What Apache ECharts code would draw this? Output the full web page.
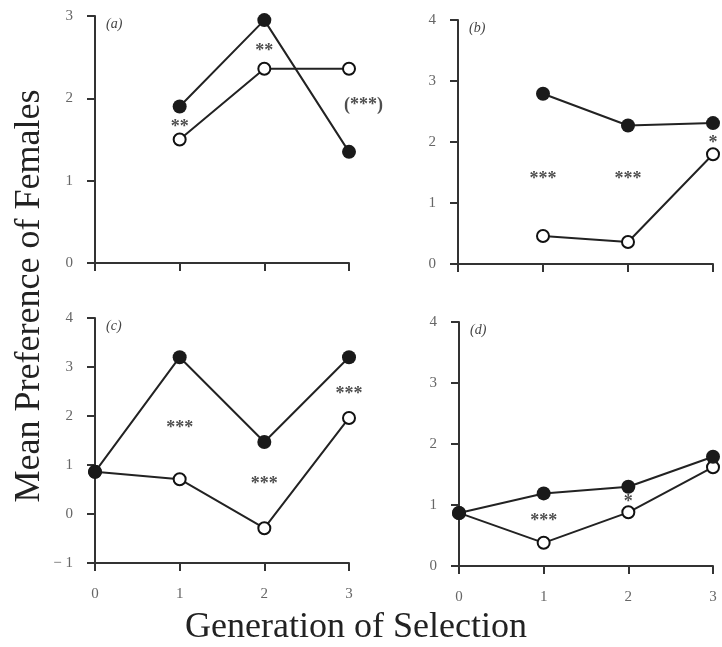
<!DOCTYPE html>
<html>
<head>
<meta charset="utf-8">
<script src="https://cdn.jsdelivr.net/npm/echarts@6/dist/echarts.min.js"></script>
<style>
  html, body { margin: 0; padding: 0; background: #fff; }
  #chart { width: 722px; height: 647px; }
</style>
</head>
<body>
<div id="chart"></div>
<script>
// generations on the x axis
const gens = [0, 1, 2, 3]
const xTicks = ['0', '1', '2', '3']

// mean preference, filled = one line, open = the other (null = no data)
const aFilled = [null, 1.9, 2.95, 1.35]
const aOpen = [null, 1.5, 2.36, 2.36]
const bFilled = [null, 2.79, 2.27, 2.31]
const bOpen = [null, 0.46, 0.36, 1.8]
const cFilled = [0.86, 3.2, 1.47, 3.2]
const cOpen = [0.86, 0.71, -0.29, 1.96]
const dFilled = [0.87, 1.19, 1.3, 1.79]
const dOpen = [0.87, 0.38, 0.88, 1.62]

// significance marks: [generation, value, text]
const aStars = [[1, 1.7, '**'], [2, 2.62, '**'], [3.17, 1.96, '(***)']]
const bStars = [[1, 1.45, '***'], [2, 1.45, '***'], [3, 2.05, '*']]
const cStars = [[1, 1.82, '***'], [2, 0.69, '***'], [3, 2.53, '***']]
const dStars = [[1, 0.8, '***'], [2, 1.11, '*']]

const panelLabels = ['(a)', '(b)', '(c)', '(d)']
const yRanges = [[0, 3], [0, 4], [-1, 4], [0, 4]]

const serif = '"Liberation Serif", "DejaVu Serif", serif'

function pairs(vals) {
  return gens.map((g, i) => [g, vals[i]]).filter((p) => p[1] !== null)
}

const grids = [
  { left: 95, top: 16, width: 254, height: 247 },
  { left: 458, top: 20, width: 255, height: 244 },
  { left: 95, top: 318, width: 254, height: 245 },
  { left: 459, top: 322, width: 254, height: 244 },
]

const xAxes = grids.map((g, i) => ({
  gridIndex: i,
  type: 'value',
  min: 0,
  max: 3,
  interval: 1,
  axisLine: { show: true, onZero: false, lineStyle: { color: '#333', width: 2 } },
  axisTick: { show: true, inside: false, length: 8, lineStyle: { color: '#333', width: 2 } },
  axisLabel: {
    show: i >= 2,
    margin: 24,
    fontFamily: serif,
    fontSize: 15,
    color: '#666',
    formatter: (v) => xTicks[v],
  },
  splitLine: { show: false },
}))

const yAxes = grids.map((g, i) => ({
  gridIndex: i,
  type: 'value',
  min: yRanges[i][0],
  max: yRanges[i][1],
  interval: 1,
  axisLine: { show: true, onZero: false, lineStyle: { color: '#333', width: 2 } },
  axisTick: { show: true, inside: false, length: 8, lineStyle: { color: '#333', width: 2 } },
  axisLabel: {
    margin: 22,
    fontFamily: serif,
    fontSize: 15,
    color: '#666',
    formatter: (v) => (v < 0 ? '\u2212 ' + Math.abs(v) : String(v)),
  },
  splitLine: { show: false },
}))

function openLine(vals, i) {
  return {
    type: 'line',
    xAxisIndex: i,
    yAxisIndex: i,
    data: pairs(vals),
    symbol: 'circle',
    symbolSize: 12,
    z: 2,
    lineStyle: { color: '#222', width: 2 },
    itemStyle: { color: '#fff', borderColor: '#111', borderWidth: 2 },
    animation: false,
  }
}

function filledLine(vals, i) {
  return {
    type: 'line',
    xAxisIndex: i,
    yAxisIndex: i,
    data: pairs(vals),
    symbol: 'circle',
    symbolSize: 14,
    z: 3,
    lineStyle: { color: '#222', width: 2 },
    itemStyle: { color: '#1a1a1a' },
    animation: false,
  }
}

function stars(list, i) {
  return {
    type: 'scatter',
    xAxisIndex: i,
    yAxisIndex: i,
    data: list,
    symbolSize: 0,
    clip: false,
    z: 4,
    label: {
      show: true,
      position: 'inside',
      offset: [0, 4],
      fontFamily: serif,
      fontSize: 18,
      fontWeight: 'bold',
      color: '#222',
      formatter: (p) => p.data[2],
    },
    animation: false,
  }
}

const series = [
  openLine(aOpen, 0), filledLine(aFilled, 0), stars(aStars, 0),
  openLine(bOpen, 1), filledLine(bFilled, 1), stars(bStars, 1),
  openLine(cOpen, 2), filledLine(cFilled, 2), stars(cStars, 2),
  openLine(dOpen, 3), filledLine(dFilled, 3), stars(dStars, 3),
]

const labelPos = [[106, 17], [469, 21], [106, 319], [470, 323]]

const graphic = panelLabels.map((t, i) => ({
  type: 'text',
  left: labelPos[i][0],
  top: labelPos[i][1],
  style: { text: t, font: 'italic 14px ' + serif, fill: '#444' },
}))
graphic.push({
  type: 'text',
  x: 30,
  y: 296,
  rotation: Math.PI / 2,
  style: {
    text: 'Mean Preference of Females',
    font: '36px ' + serif,
    fill: '#222',
    align: 'center',
    verticalAlign: 'middle',
  },
})
graphic.push({
  type: 'text',
  x: 356,
  y: 628,
  style: {
    text: 'Generation of Selection',
    font: '36px ' + serif,
    fill: '#222',
    align: 'center',
    verticalAlign: 'middle',
  },
})

const chart = echarts.init(document.getElementById('chart'))
chart.setOption({
  animation: false,
  grid: grids,
  xAxis: xAxes,
  yAxis: yAxes,
  series: series,
  graphic: graphic,
})
</script>
</body>
</html>
